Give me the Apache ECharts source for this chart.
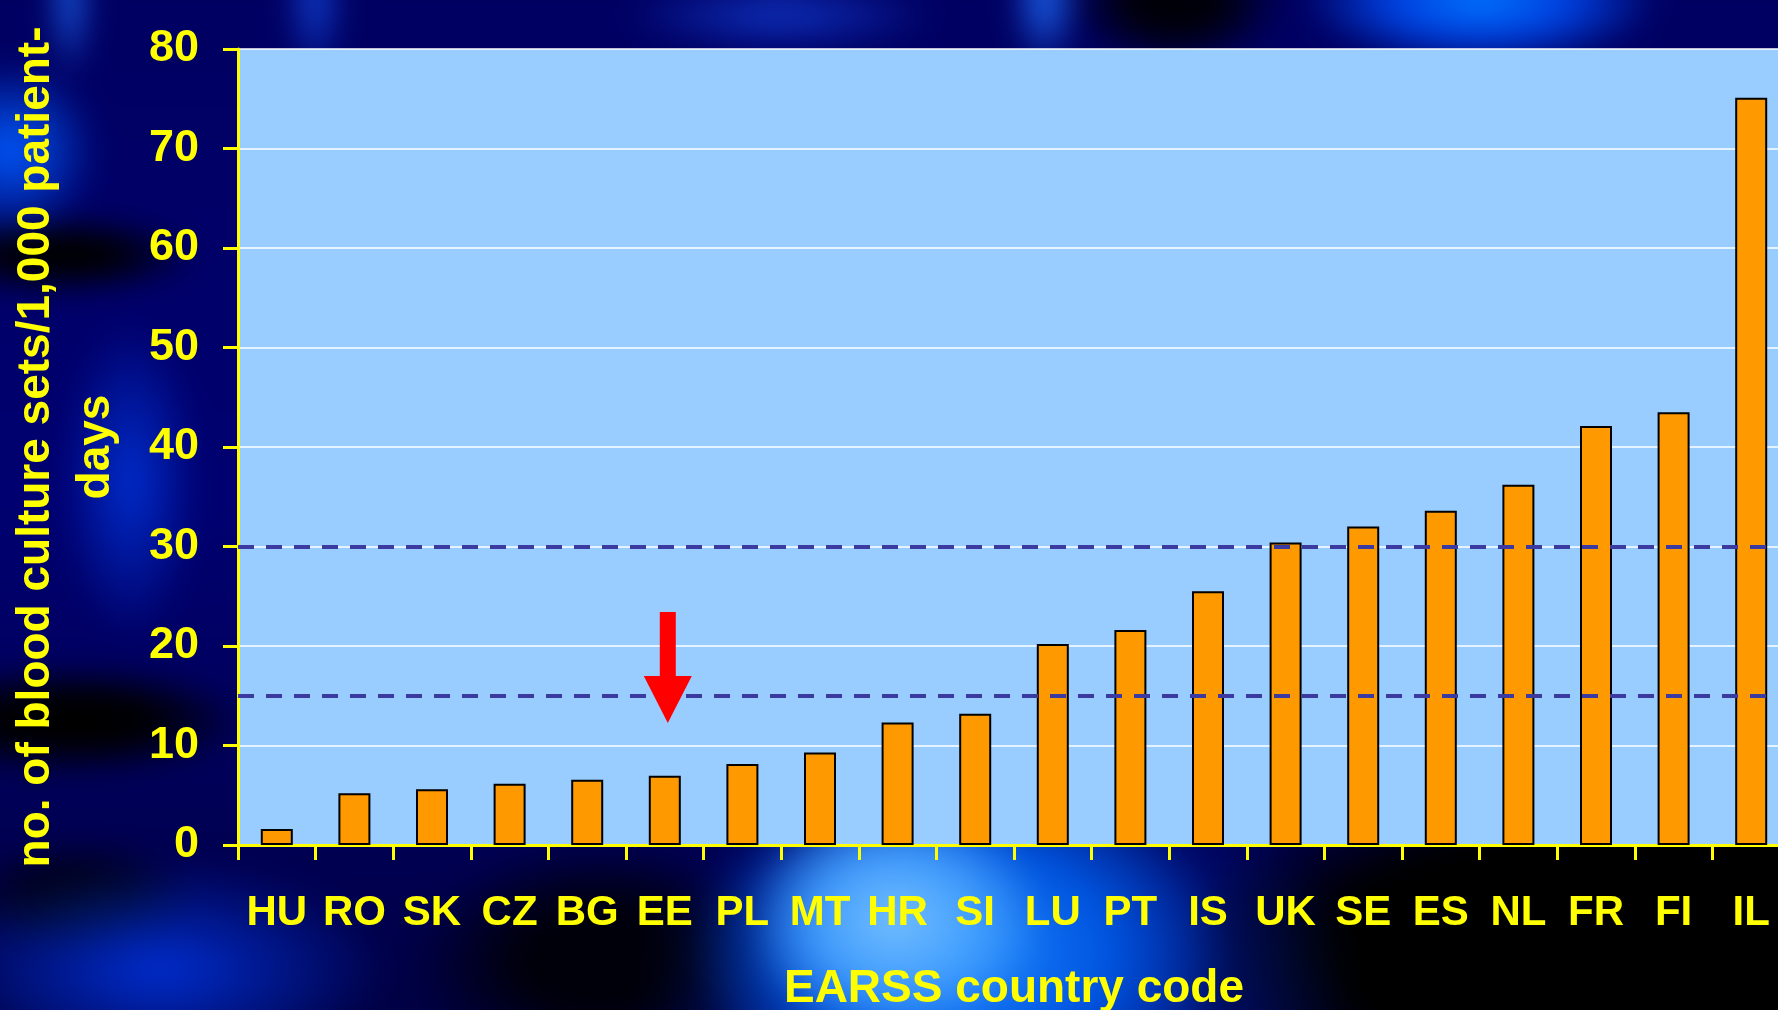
<!DOCTYPE html>
<html>
<head>
<meta charset="utf-8">
<title>Blood culture sets per 1,000 patient-days</title>
<script src="https://cdn.jsdelivr.net/npm/echarts@6/dist/echarts.min.js"></script>
<style>
  html, body { margin: 0; padding: 0; width: 1778px; height: 1010px; overflow: hidden; background: #000055; }
  #bg {
    position: absolute; left: -40px; top: -40px; width: 1858px; height: 1090px;
    filter: blur(14px);
    background:
      radial-gradient(ellipse 150px 120px at 935px 960px, rgba(115,190,255,1), rgba(75,165,255,0.9) 50%, rgba(30,120,255,0) 100%),
      radial-gradient(ellipse 270px 190px at 1000px 990px, rgba(30,140,255,0.95), rgba(0,100,245,0.8) 55%, rgba(0,40,200,0) 100%),
      radial-gradient(ellipse 360px 220px at 1040px 1020px, rgba(0,50,220,0.7), rgba(0,0,0,0) 100%),
      radial-gradient(ellipse 480px 190px at 1680px 990px, #000 65%, rgba(0,0,0,0) 100%),
      radial-gradient(ellipse 190px 120px at 640px 1000px, rgba(0,0,10,1) 40%, rgba(0,0,0,0) 100%),
      radial-gradient(ellipse 180px 70px at 1520px 40px, rgba(0,120,255,1), rgba(0,80,255,0.8) 50%, rgba(0,0,0,0) 100%),
      radial-gradient(ellipse 35px 70px at 1085px 40px, rgba(30,110,255,0.95), rgba(0,0,0,0) 100%),
      radial-gradient(ellipse 110px 70px at 1215px 40px, #000008 40%, rgba(0,0,0,0) 100%),
      radial-gradient(ellipse 160px 40px at 820px 55px, rgba(20,70,230,0.7), rgba(0,0,0,0) 100%),
      radial-gradient(ellipse 30px 80px at 355px 40px, rgba(20,80,240,0.8), rgba(0,0,0,0) 100%),
      radial-gradient(ellipse 22px 80px at 110px 40px, rgba(30,110,255,0.9), rgba(0,0,0,0) 100%),
      radial-gradient(ellipse 90px 90px at 50px 190px, rgba(0,90,255,1), rgba(0,0,0,0) 100%),
      radial-gradient(ellipse 140px 40px at 100px 295px, #000 40%, rgba(0,0,0,0) 100%),
      radial-gradient(ellipse 70px 160px at 170px 520px, rgba(0,60,235,0.75), rgba(0,0,0,0) 100%),
      radial-gradient(ellipse 180px 55px at 110px 760px, #000 45%, rgba(0,0,0,0) 100%),
      radial-gradient(ellipse 230px 110px at 200px 1010px, rgba(0,50,220,0.9), rgba(0,0,0,0) 100%),
      radial-gradient(ellipse 120px 60px at 120px 940px, #000010 40%, rgba(0,0,0,0) 100%),
      linear-gradient(#000060, #000070 50%, #000040);
  }
  #chart { position: absolute; left: 0; top: 0; width: 1778px; height: 1010px; }
</style>
</head>
<body>
<div id="bg"></div>
<div id="chart"></div>
<script>
// EARSS reporting countries, ordered by blood culture rate
const countries = ['HU', 'RO', 'SK', 'CZ', 'BG', 'EE', 'PL', 'MT', 'HR', 'SI',
                   'LU', 'PT', 'IS', 'UK', 'SE', 'ES', 'NL', 'FR', 'FI', 'IL'];

// Blood culture sets per 1,000 patient-days
const cultureRates = [1.6, 5.2, 5.6, 6.15, 6.55, 6.95, 8.15, 9.3, 12.3, 13.2,
                      20.2, 21.6, 25.5, 30.4, 32.0, 33.6, 36.2, 42.1, 43.5, 75.1];

// Reference levels drawn as dashed lines
const referenceLevels = [15, 30];

// Value-axis tick labels
const yTicks = [0, 10, 20, 30, 40, 50, 60, 70, 80];

// Highlighted country and the span of its arrow on the value scale
const highlightCountry = 'EE';
const arrowSpan = [12.3, 23.4];

const YELLOW = '#FFFF00';
const FONT = '"Liberation Sans", Arial, sans-serif';

const chart = echarts.init(document.getElementById('chart'), null, { renderer: 'canvas' });

chart.setOption({
  backgroundColor: 'transparent',
  animation: false,
  grid: {
    left: 238, top: 49, bottom: 165, right: -12,
    outerBoundsMode: 'none',
    containLabel: false,
    show: true, backgroundColor: '#99CCFF', borderWidth: 0
  },
  xAxis: {
    type: 'category',
    data: countries,
    name: 'EARSS country code',
    nameLocation: 'middle',
    nameGap: 121,
    nameTextStyle: { color: YELLOW, fontFamily: FONT, fontWeight: 'bold', fontSize: 46 },
    axisLine: { show: true, lineStyle: { color: YELLOW, width: 3 } },
    axisTick: { show: true, length: 15, lineStyle: { color: YELLOW, width: 3 } },
    axisLabel: {
      interval: 0, margin: 47, color: YELLOW, fontWeight: 'bold', fontSize: 42,
      fontFamily: FONT
    },
    splitLine: { show: false }
  },
  yAxis: {
    type: 'value',
    min: yTicks[0], max: yTicks[yTicks.length - 1], interval: yTicks[1] - yTicks[0],
    name: 'no. of blood culture sets/1,000 patient-\ndays',
    nameLocation: 'middle',
    nameGap: 112,
    nameTextStyle: { color: YELLOW, fontFamily: FONT, fontWeight: 'bold', fontSize: 46, lineHeight: 60 },
    axisLine: { show: true, lineStyle: { color: YELLOW, width: 3 } },
    axisTick: { show: true, length: 15, lineStyle: { color: YELLOW, width: 3 } },
    axisLabel: { margin: 39, color: YELLOW, fontFamily: FONT, fontWeight: 'bold', fontSize: 45 },
    splitLine: { show: true, lineStyle: { color: '#FFFFFF', width: 1.5 } }
  },
  series: [{
    type: 'bar',
    data: cultureRates,
    barWidth: 32,
    itemStyle: { color: '#FF9900', borderColor: '#000000', borderWidth: 2 },
    markLine: {
      silent: true,
      symbol: ['none', 'none'],
      label: { show: false },
      lineStyle: { color: '#3a3aa0', width: 4, type: [16, 12] },
      data: referenceLevels.map(v => ({ yAxis: v }))
    },
    markPoint: {
      silent: true,
      symbol: 'path://M16,0 L32,0 L32,64 L48,64 L24,111 L0,64 L16,64 Z',
      symbolSize: [48, 111],
      symbolOffset: [3, 0],
      itemStyle: { color: '#FF0000' },
      label: { show: false },
      data: [{ coord: [highlightCountry, (arrowSpan[0] + arrowSpan[1]) / 2] }]
    }
  }]
});
</script>
</body>
</html>
